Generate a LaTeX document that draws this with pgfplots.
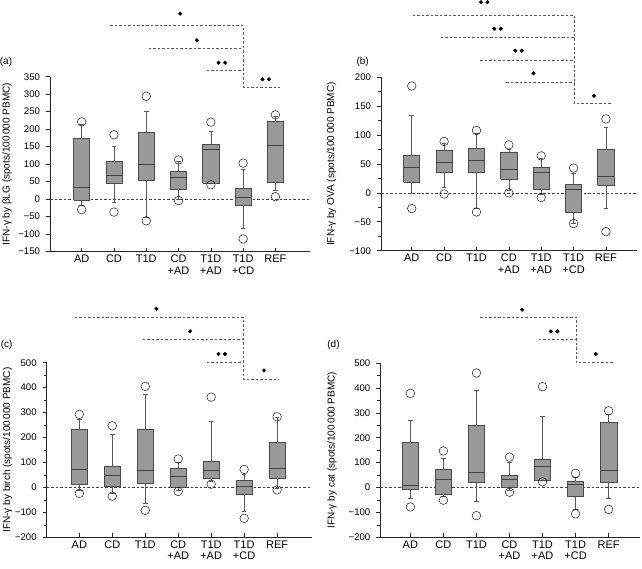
\documentclass[border=0pt]{standalone}
\usepackage{fontspec}
\setmainfont{Liberation Sans}
\usepackage{pgfplots}
\pgfplotsset{compat=1.18}
\definecolor{boxfill}{gray}{0.6}
\definecolor{boxedge}{gray}{0.3}
\definecolor{meddark}{gray}{0.25}
\definecolor{whisk}{gray}{0.35}
\definecolor{dashc}{gray}{0.35}
\pgfplotsset{
 panel/.style={
  scale only axis, anchor=south west, clip=false,
  axis x line*=bottom, axis y line*=left,
  axis line style={draw=black!85, line width=0.7pt},
  tick style={draw=black!85, line width=0.6pt},
  major tick length=4pt, minor tick length=3pt,
  xtick align=inside, ytick align=outside,
  xtick={1,2,3,4,5,6,7},
  xticklabels={AD,CD,T1D,{CD\\+AD},{T1D\\+AD},{T1D\\+CD},REF},
  xticklabel style={align=center, font=\fontsize{11}{11.4}\selectfont},
  yticklabel style={font=\fontsize{9.6}{11}\selectfont, xshift=-2.5pt},
  ylabel style={font=\fontsize{10}{12}\selectfont, anchor=center},
 },
 whst/.style={whisk, line width=0.6pt, solid, mark=none},
 boxst/.style={draw=boxedge, fill=boxfill, line width=0.7pt, solid, mark=none},
 medst/.style={meddark, line width=0.9pt, solid, mark=none},
 outst/.style={only marks, mark=o, mark size=4.3pt, black!90, mark options={line width=0.5pt, solid}},
 br/.style={dashc, line width=0.6pt, dash pattern=on 2.5pt off 2pt, mark=none},
 zl/.style={black!75, line width=0.6pt, dash pattern=on 2.5pt off 2pt, mark=none},
 sig/.style={only marks, mark=*, mark size=1.8pt, black},
}
% box: position, lower whisker, lower quartile, median, upper quartile, upper whisker, low outlier, high outlier
\newcommand{\bx}[8]{%
 \pgfmathsetmacro\bxL{#1-0.25}\pgfmathsetmacro\bxR{#1+0.25}%
 \pgfmathsetmacro\capL{#1-0.07}\pgfmathsetmacro\capR{#1+0.07}%
 \edef\bxtmp{%
  \noexpand\addplot[whst] coordinates {(#1,#5) (#1,#6)};
  \noexpand\addplot[whst] coordinates {(\capL,#6) (\capR,#6)};
  \noexpand\addplot[whst] coordinates {(#1,#3) (#1,#2)};
  \noexpand\addplot[whst] coordinates {(\capL,#2) (\capR,#2)};
  \noexpand\addplot[boxst] coordinates {(\bxL,#3) (\bxR,#3) (\bxR,#5) (\bxL,#5) (\bxL,#3)};
  \noexpand\addplot[medst] coordinates {(\bxL,#4) (\bxR,#4)};
  \noexpand\addplot[outst] coordinates {(#1,#7) (#1,#8)};
 }\bxtmp}
\begin{document}
\begin{tikzpicture}
\useasboundingbox (0pt,0pt) rectangle (642pt,568pt);
% ---------------- (a)
\begin{axis}[panel, at={(50pt,316.4pt)}, width=260pt, height=174.9pt,
  xmin=0.02, xmax=8.07, ymin=-150, ymax=350,
  ytick={-150,-100,-50,0,50,100,150,200,250,300,350},
  yticklabels={−150,−100,−50,0,50,100,150,200,250,300,350},
  ylabel={IFN-γ by βLG (spots/100\,000 PBMC)},
  ylabel style={at={(axis description cs:-0.1654,0.5)}}]
\addplot[zl] coordinates {(0.02,0) (8.07,0)};
\bx{1}{-19}{-3}{33}{174}{215}{-30}{221}
\bx{2}{-8}{46}{67}{108}{152}{-37}{184}
\bx{3}{-52}{53}{99}{191}{252}{-62}{294}
\bx{4}{0}{27}{63}{80}{108}{-4}{112}
\bx{5}{44}{46}{141}{156}{194}{41}{220}
\bx{6}{-84}{-17}{4}{31}{86}{-114}{103}
\bx{7}{25}{48}{153}{221}{236}{7}{241}
\addplot[br] coordinates {(1.88,495.6) (6,495.6) (6,320) (7.14,320)};
\addplot[br] coordinates {(3.08,431) (6,431)};
\addplot[br] coordinates {(4.87,367) (6,367)};
\addplot[sig] coordinates {(4.05,530)};
\addplot[sig] coordinates {(4.57,454)};
\addplot[sig] coordinates {(5.24,390) (5.44,390)};
\addplot[sig] coordinates {(6.60,342.6) (6.80,342.6)};
\end{axis}
% ---------------- (b)
\begin{axis}[panel, at={(381pt,317.3pt)}, width=256pt, height=173.4pt,
  xmin=0.05, xmax=7.96, ymin=-100, ymax=200,
  ytick={-100,-50,0,50,100,150,200},
  yticklabels={−100,−50,0,50,100,150,200},
  minor ytick={-75,-25,25,75,125,175},
  ylabel={IFN-γ by OVA (spots/100\,000 PBMC)},
  ylabel style={at={(axis description cs:-0.193,0.5)}}]
\addplot[zl] coordinates {(0.05,0) (7.96,0)};
\bx{1}{-1}{18}{44}{65}{134}{-27}{185}
\bx{2}{9}{36}{53}{74}{85}{-2}{89}
\bx{3}{-26}{35}{57}{77}{103}{-33}{108}
\bx{4}{5}{24}{41}{71}{76}{0}{83}
\bx{5}{-2}{6}{36}{44}{59}{-8}{64}
\bx{6}{-52}{-33}{6}{15}{34}{-53}{43}
\bx{7}{-26}{13}{28}{76}{114}{-67}{128}
\addplot[br] coordinates {(1.03,307) (6.02,307) (6.02,154.5) (7.15,154.5)};
\addplot[br] coordinates {(1.90,269) (6.02,269)};
\addplot[br] coordinates {(3.11,230) (6.02,230)};
\addplot[br] coordinates {(3.92,192) (6.02,192)};
\addplot[sig] coordinates {(3.14,330) (3.34,330)};
\addplot[sig] coordinates {(3.55,284) (3.75,284)};
\addplot[sig] coordinates {(4.20,246) (4.40,246)};
\addplot[sig] coordinates {(4.76,207)};
\addplot[sig] coordinates {(6.63,168)};
\end{axis}
% ---------------- (c)
\begin{axis}[panel, at={(46.7pt,30.7pt)}, width=265pt, height=174.6pt,
  xmin=0.01, xmax=8.05, ymin=-200, ymax=500,
  ytick={-200,-100,0,100,200,300,400,500},
  yticklabels={−200,−100,0,100,200,300,400,500},
  minor ytick={-150,-50,50,150,250,350,450},
  ylabel={IFN-γ by birch (spots/100\,000 PBMC)},
  ylabel style={at={(axis description cs:-0.148,0.5)}}]
\addplot[zl] coordinates {(0.01,0) (8.05,0)};
\bx{1}{-12}{12}{72}{233}{273}{-24}{293}
\bx{2}{-24}{4}{48}{86}{211}{-35}{247}
\bx{3}{-63}{16}{69}{231}{374}{-92}{405}
\bx{4}{-11}{0}{43}{76}{100}{-16}{114}
\bx{5}{23}{36}{68}{104}{266}{13}{362}
\bx{6}{-94}{-27}{5}{28}{52}{-124}{72}
\bx{7}{-5}{36}{76}{179}{282}{-10}{283}
\addplot[br] coordinates {(0.86,682) (5.98,682) (5.98,433) (7.04,433)};
\addplot[br] coordinates {(2.92,592) (5.98,592)};
\addplot[br] coordinates {(4.86,501) (5.98,501)};
\addplot[sig] coordinates {(3.34,716)};
\addplot[sig] coordinates {(4.36,626)};
\addplot[sig] coordinates {(5.22,535) (5.42,535)};
\addplot[sig] coordinates {(6.60,469)};
\end{axis}
% ---------------- (d)
\begin{axis}[panel, at={(380.3pt,30.7pt)}, width=259.7pt, height=174.3pt,
  xmin=0.09, xmax=7.95, ymin=-200, ymax=500,
  ytick={-200,-100,0,100,200,300,400,500},
  yticklabels={−200,−100,0,100,200,300,400,500},
  minor ytick={-150,-50,50,150,250,350,450},
  ylabel={IFN-γ by cat (spots/100\,000 PBMC)},
  ylabel style={at={(axis description cs:-0.186,0.5)}}]
\addplot[zl] coordinates {(0.09,0) (7.95,0)};
\bx{1}{-43}{-7}{7}{180}{268}{-78}{378}
\bx{2}{-34}{-27}{34}{72}{119}{-51}{147}
\bx{3}{-54}{21}{59}{249}{389}{-113}{460}
\bx{4}{-12}{0}{33}{47}{103}{-19}{122}
\bx{5}{29}{29}{84}{113}{287}{23}{405}
\bx{6}{-87}{-36}{12}{23}{41}{-106}{57}
\bx{7}{-42}{19}{68}{263}{294}{-88}{308}
\addplot[br] coordinates {(3.11,684) (6.01,684) (6.01,501) (7.17,501)};
\addplot[br] coordinates {(4.88,594) (6.01,594)};
\addplot[sig] coordinates {(4.38,714)};
\addplot[sig] coordinates {(5.25,627) (5.45,627)};
\addplot[sig] coordinates {(6.61,536)};
\end{axis}
\node[font=\fontsize{10}{12}\selectfont] at (6pt,506.3pt) {(a)};
\node[font=\fontsize{10}{12}\selectfont] at (362.7pt,506pt) {(b)};
\node[font=\fontsize{10}{12}\selectfont] at (6.7pt,223pt) {(c)};
\node[font=\fontsize{10}{12}\selectfont] at (333.5pt,223pt) {(d)};
\end{tikzpicture}
\end{document}
